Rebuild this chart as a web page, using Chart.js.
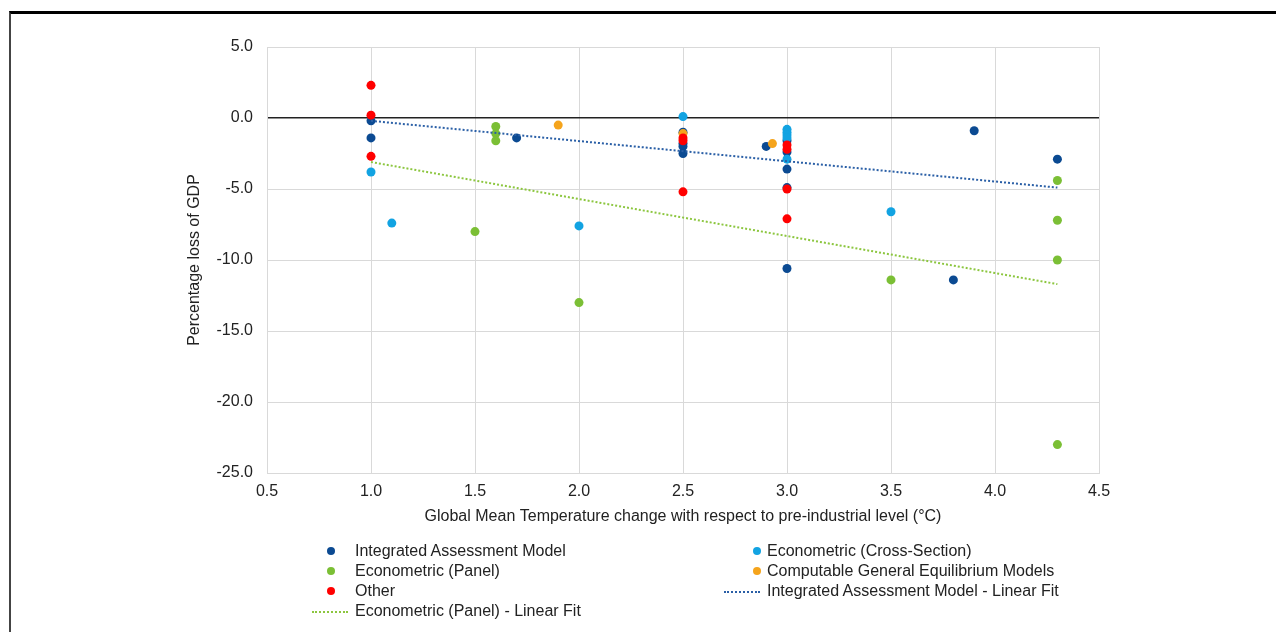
<!DOCTYPE html>
<html>
<head>
<meta charset="utf-8">
<script src="https://cdn.jsdelivr.net/npm/chart.js@4"></script>
<style>
  html, body { margin: 0; padding: 0; background: #fff; }
  body { width: 1276px; height: 632px; position: relative; overflow: hidden;
         font-family: "Liberation Sans", Arial, sans-serif; color: #222; }
  #frame { position: absolute; left: 9px; top: 11px; right: 0; bottom: 0;
           border-top: 3px solid #000; border-left: 2px solid #444; }
  #wrap { position: absolute; left: 0; top: 0; width: 1276px; height: 632px; }
  #legend { position: absolute; left: 0; top: 0; width: 1276px; font-size: 16px; }
  .item { position: absolute; height: 20px; line-height: 20px; white-space: nowrap; }
  .dot { position: absolute; width: 8px; height: 8px; border-radius: 50%; top: 6px; }
  .dash { position: absolute; width: 36px; top: 10px; border-top: 2px dotted; }
</style>
</head>
<body>
<div id="frame"></div>
<div id="wrap"><canvas id="chart" width="1276" height="632"></canvas></div>
<div id="legend"></div>
<script>
// series values
const iamX = [1.0, 1.0, 1.7, 2.5, 2.5, 2.5, 2.5, 2.9, 3.0, 3.0, 3.0, 3.0, 3.0, 3.8, 3.9, 4.3];
const iamY = [-0.2, -1.4, -1.4, -1.0, -1.8, -2.0, -2.5, -2.0, -1.6, -2.4, -3.6, -4.9, -10.6, -11.4, -0.9, -2.9];

const crossX = [1.0, 1.1, 2.0, 2.5, 3.0, 3.0, 3.0, 3.0, 3.0, 3.5];
const crossY = [-3.8, -7.4, -7.6, 0.1, -0.8, -1.0, -1.2, -1.4, -2.9, -6.6];

const panelX = [1.5, 1.6, 1.6, 1.6, 2.0, 3.5, 4.3, 4.3, 4.3, 4.3];
const panelY = [-8.0, -0.6, -1.1, -1.6, -13.0, -11.4, -4.4, -7.2, -10.0, -23.0];

const cgeX = [1.9, 2.5, 2.93];
const cgeY = [-0.5, -1.1, -1.8];

const otherX = [1.0, 1.0, 1.0, 2.5, 2.5, 2.5, 3.0, 3.0, 3.0, 3.0];
const otherY = [2.3, 0.2, -2.7, -1.4, -1.6, -5.2, -1.9, -2.2, -5.0, -7.1];

// linear fit end points as drawn
const iamFitX = [1.0, 4.3];
const iamFitY = [-0.2, -4.9];
const panelFitX = [1.0, 4.3];
const panelFitY = [-3.1, -11.7];

const seriesNames = [
  'Integrated Assessment Model',
  'Econometric (Cross-Section)',
  'Econometric (Panel)',
  'Computable General Equilibrium Models',
  'Other',
  'Integrated Assessment Model - Linear Fit',
  'Econometric (Panel) - Linear Fit'
];

const xTitle = 'Global Mean Temperature change with respect to pre-industrial level (°C)';
const yTitle = 'Percentage loss of GDP';

const toPts = (xs, ys) => xs.map((x, i) => ({ x: x, y: ys[i] }));

const colors = ['#0b4a92', '#12a3e2', '#7bbf35', '#f5a41c', '#ff0000', '#2a5fa6', '#8cc63f'];

function scatter(name, xs, ys, col, order) {
  return {
    type: 'scatter', label: name, data: toPts(xs, ys),
    backgroundColor: col, borderColor: col, pointRadius: 4.5,
    pointBorderWidth: 0, order: order
  };
}
function fit(name, xs, ys, col, order) {
  return {
    type: 'line', label: name, data: toPts(xs, ys),
    borderColor: col, borderWidth: 2, borderDash: [2, 2],
    pointRadius: 0, fill: false, order: order
  };
}

const font = { family: '"Liberation Sans", Arial, sans-serif', size: 16 };

const chart = new Chart(document.getElementById('chart').getContext('2d'), {
  data: {
    datasets: [
      scatter(seriesNames[0], iamX, iamY, colors[0], 5),
      scatter(seriesNames[1], crossX, crossY, colors[1], 4),
      scatter(seriesNames[2], panelX, panelY, colors[2], 3),
      scatter(seriesNames[3], cgeX, cgeY, colors[3], 2),
      scatter(seriesNames[4], otherX, otherY, colors[4], 1),
      fit(seriesNames[5], iamFitX, iamFitY, colors[5], 0),
      fit(seriesNames[6], panelFitX, panelFitY, colors[6], 0)
    ]
  },
  options: {
    responsive: false,
    animation: false,
    layout: { padding: { left: 181, top: 47, right: 177, bottom: 102 } },
    plugins: { legend: { display: false }, tooltip: { enabled: false } },
    scales: {
      x: {
        type: 'linear', min: 0.5, max: 4.5,
        afterFit: s => { s.height = 57; },
        ticks: { stepSize: 0.5, padding: 9, color: '#222', font: font,
                 callback: v => v.toFixed(1) },
        grid: { color: '#d9d9d9', drawTicks: false },
        border: { color: '#d9d9d9' },
        title: { display: true, text: xTitle, color: '#222', font: font, padding: 4 }
      },
      y: {
        type: 'linear', min: -25, max: 5,
        afterFit: s => { s.width = 86; },
        ticks: { stepSize: 5, padding: 14, color: '#222', font: font,
                 callback: v => v.toFixed(1) },
        grid: {
          drawTicks: false,
          color: c => c.tick && c.tick.value === 0 ? '#222' : '#d9d9d9',
          lineWidth: c => c.tick && c.tick.value === 0 ? 1.5 : 1
        },
        border: { color: '#d9d9d9' },
        title: { display: true, text: yTitle, color: '#222', font: font, padding: 4 }
      }
    }
  }
});

// legend laid out like the original: two columns, four rows
const legendSlots = [
  { i: 0, col: 0, row: 0 }, { i: 1, col: 1, row: 0 },
  { i: 2, col: 0, row: 1 }, { i: 3, col: 1, row: 1 },
  { i: 4, col: 0, row: 2 }, { i: 5, col: 1, row: 2 },
  { i: 6, col: 0, row: 3 }
];
const legend = document.getElementById('legend');
legendSlots.forEach(slot => {
  const ds = chart.data.datasets[slot.i];
  const textX = slot.col === 0 ? 355 : 767;
  const el = document.createElement('div');
  el.className = 'item';
  el.style.left = (textX - 50) + 'px';
  el.style.top = (541 + slot.row * 20) + 'px';
  const mark = document.createElement('span');
  if (ds.type === 'line') {
    mark.className = 'dash';
    mark.style.left = '7px';
    mark.style.borderColor = ds.borderColor;
  } else {
    mark.className = 'dot';
    mark.style.left = (slot.col === 0 ? 22 : 36) + 'px';
    mark.style.background = ds.backgroundColor;
  }
  el.appendChild(mark);
  const txt = document.createElement('span');
  txt.style.position = 'absolute';
  txt.style.left = '50px';
  txt.textContent = ds.label;
  el.appendChild(txt);
  legend.appendChild(el);
});
</script>
</body>
</html>
